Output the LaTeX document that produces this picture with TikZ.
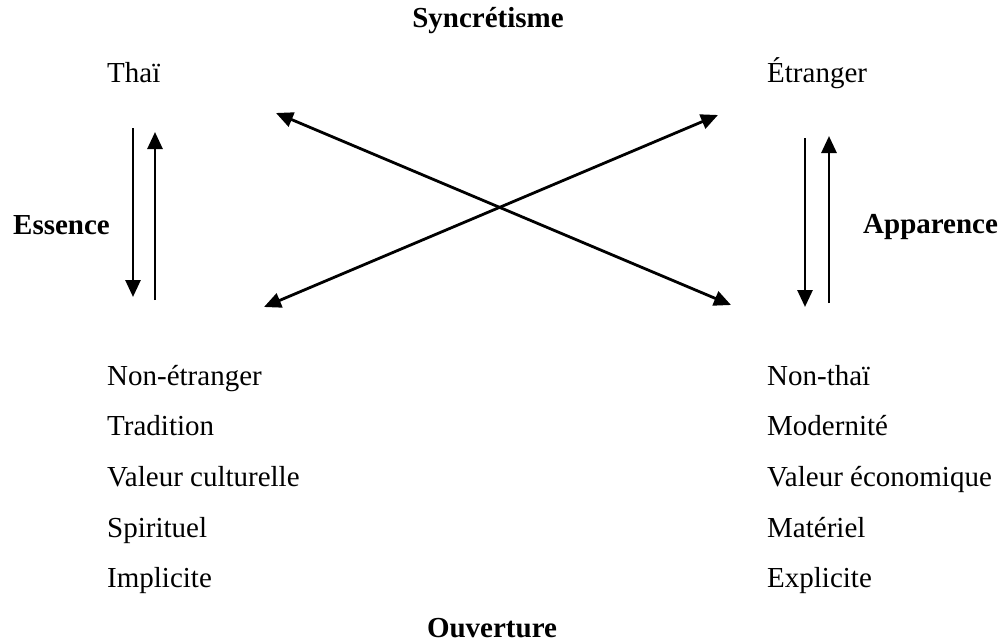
\documentclass[tikz,border=0pt]{standalone}
\usepackage{fontspec}
\setmainfont{Liberation Serif}
\usetikzlibrary{arrows.meta}
\begin{document}
\begin{tikzpicture}[x=1pt,y=-1pt,
  lbl/.style={anchor=base west,inner sep=0pt,font=\fontsize{29}{34}\selectfont},
  ttl/.style={anchor=base,inner sep=0pt,font=\fontsize{29}{34}\selectfont\bfseries},
  side/.style={anchor=base west,inner sep=0pt,font=\fontsize{29}{34}\selectfont\bfseries},
  arr/.style={line width=2.8pt,-{Triangle[length=17pt,width=15pt]}},
  darr/.style={line width=2.8pt,{Triangle[length=17pt,width=15pt]}-{Triangle[length=17pt,width=15pt]}}]
\useasboundingbox (0,0) rectangle (1002,643);
% titles
\node[ttl] (sync) at (488,27) {Syncrétisme};
\node[ttl] (ouv) at (492,637) {Ouverture};
\node[side] (ess) at (13,234) {Essence};
\node[side] (app) at (863,233) {Apparence};
% top labels
\node[lbl] (thai) at (107,82) {Thaï};
\node[lbl] (etr) at (767,82) {Étranger};
% left list
\node[lbl] (l1) at (107,385) {Non-étranger};
\node[lbl] (l2) at (107,435) {Tradition};
\node[lbl] (l3) at (107,486) {Valeur culturelle};
\node[lbl] (l4) at (107,537) {Spirituel};
\node[lbl] (l5) at (107,587) {Implicite};
% right list
\node[lbl] (r1) at (767,385) {Non-thaï};
\node[lbl] (r2) at (767,435) {Modernité};
\node[lbl] (r3) at (767,486) {Valeur économique};
\node[lbl] (r4) at (767,537) {Matériel};
\node[lbl] (r5) at (767,587) {Explicite};
% arrow end points
\coordinate (ldt) at (133,128);
\coordinate (ldb) at (133,297);
\coordinate (lub) at (155,300);
\coordinate (lut) at (155,132);
\coordinate (rdt) at (805,138);
\coordinate (rdb) at (805,307);
\coordinate (rub) at (829,303);
\coordinate (rut) at (829,136);
\coordinate (tl) at (276,113);
\coordinate (br) at (731,305);
\coordinate (tr) at (718,115);
\coordinate (bl) at (264,307);
% arrows
\draw[arr] (ldt) -- (ldb);
\draw[arr] (lub) -- (lut);
\draw[arr] (rdt) -- (rdb);
\draw[arr] (rub) -- (rut);
\draw[darr] (tl) -- (br);
\draw[darr] (tr) -- (bl);
\end{tikzpicture}
\end{document}
